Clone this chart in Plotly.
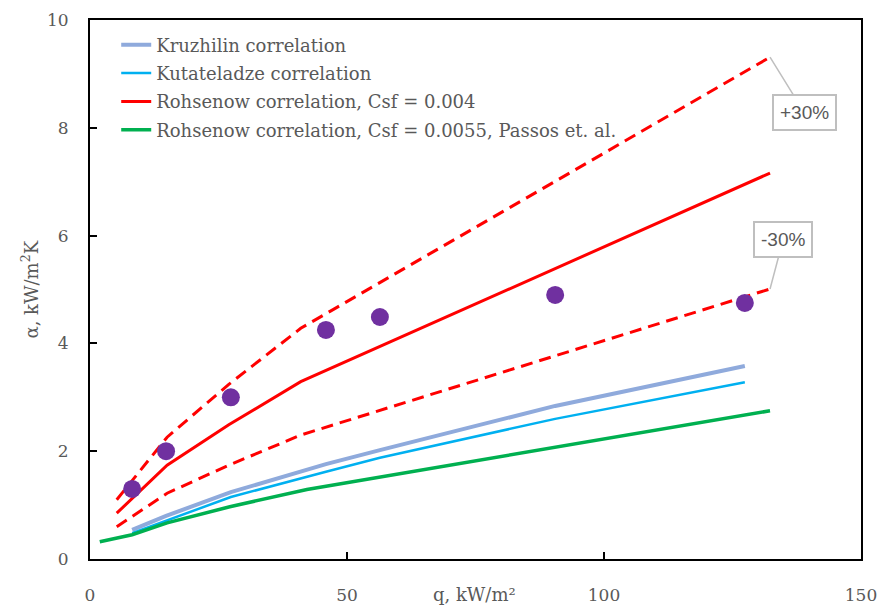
import plotly.graph_objects as go

# Experimental data
q_exp = [8.2, 14.8, 27.4, 45.9, 56.4, 90.5, 127.4]
a_exp = [1.30, 2.00, 3.00, 4.25, 4.49, 4.90, 4.75]

# Kruzhilin correlation
q_kru = [8.2, 14.8, 27.4, 45.9, 56.4, 90.5, 127.4]
a_kru = [0.54, 0.80, 1.24, 1.76, 2.02, 2.84, 3.58]

# Kutateladze correlation
q_kut = [8.2, 14.8, 27.4, 45.9, 56.4, 90.5, 127.4]
a_kut = [0.48, 0.71, 1.15, 1.62, 1.88, 2.60, 3.28]

# Rohsenow Csf = 0.004
q_roh = [5.2, 15.0, 27.0, 41.0, 132.3]
a_roh = [0.85, 1.74, 2.49, 3.29, 7.16]
a_roh_up = [1.10, 2.26, 3.24, 4.28, 9.31]
a_roh_dn = [0.60, 1.22, 1.74, 2.30, 5.01]

# Rohsenow Csf = 0.0055, Passos et al.
q_pas = [1.9, 8.2, 15.0, 27.2, 42.2, 132.3]
a_pas = [0.32, 0.45, 0.67, 0.97, 1.29, 2.75]

serif = "DejaVu Serif"
grey = "#595959"

fig = go.Figure()
fig.add_trace(go.Scatter(x=q_kru, y=a_kru, mode="lines", name="Kruzhilin correlation",
                         legendgroup="g1", line=dict(color="#8FAADC", width=4)))
fig.add_trace(go.Scatter(x=q_kut, y=a_kut, mode="lines", name="Kutateladze correlation",
                         legendgroup="g2", line=dict(color="#00B0F0", width=2.5)))
fig.add_trace(go.Scatter(x=q_roh, y=a_roh, mode="lines", name="Rohsenow correlation, Csf = 0.004",
                         legendgroup="g3", line=dict(color="#FF0000", width=3)))
fig.add_trace(go.Scatter(x=q_pas, y=a_pas, mode="lines",
                         name="Rohsenow correlation, Csf = 0.0055, Passos et. al.",
                         legendgroup="g4", line=dict(color="#00B050", width=3.5)))
fig.add_trace(go.Scatter(x=q_roh, y=a_roh_up, mode="lines", showlegend=False,
                         line=dict(color="#FF0000", width=3, dash="12px,7px")))
fig.add_trace(go.Scatter(x=q_roh, y=a_roh_dn, mode="lines", showlegend=False,
                         line=dict(color="#FF0000", width=3, dash="12px,7px")))
fig.add_trace(go.Scatter(x=q_exp, y=a_exp, mode="markers", showlegend=False,
                         marker=dict(color="#7030A0", size=18)))

axis_common = dict(showgrid=False, zeroline=False, showline=True, linecolor="black",
                   linewidth=2, mirror=True, ticks="inside", ticklen=7, tickwidth=1.5,
                   tickcolor="black", automargin=False,
                   tickfont=dict(family=serif, size=17, color=grey))

fig.update_xaxes(range=[0, 150], tickvals=[0, 50, 100, 150], ticklabelstandoff=20, **axis_common)
fig.update_yaxes(range=[0, 10], tickvals=[0, 2, 4, 6, 8, 10], ticklabelstandoff=16, **axis_common)

fig.add_annotation(text="q, kW/m²", xref="paper", yref="paper", x=0.499, y=0, yshift=-35,
                   showarrow=False, xanchor="center", yanchor="middle",
                   font=dict(family=serif, size=18, color=grey))
fig.add_annotation(text="α, kW/m<sup>2</sup>K", xref="paper", yref="paper", x=0, y=0.5,
                   xshift=-60, textangle=-90, showarrow=False, xanchor="center", yanchor="middle",
                   font=dict(family=serif, size=18, color=grey))

for xv, yv, txt, ax, ay in [(q_roh[-1], a_roh_up[-1], "+30%", 34, 55),
                            (q_roh[-1], a_roh_dn[-1], "-30%", 13, -49)]:
    fig.add_annotation(x=xv, y=yv, text=txt, showarrow=True, arrowhead=0, arrowwidth=1.5,
                       arrowcolor="#BFBFBF", ax=ax, ay=ay, bordercolor="#BFBFBF", borderwidth=2,
                       borderpad=6, bgcolor="white",
                       font=dict(family="Liberation Sans", size=19, color=grey))

fig.update_layout(width=878, height=607, margin=dict(l=90, r=17, t=20, b=48),
                  plot_bgcolor="white", paper_bgcolor="white",
                  legend=dict(x=0.034, y=0.988, xanchor="left", yanchor="top",
                              bgcolor="rgba(0,0,0,0)", tracegroupgap=2,
                              font=dict(family=serif, size=18, color=grey)))

fig.write_html("out.html")
